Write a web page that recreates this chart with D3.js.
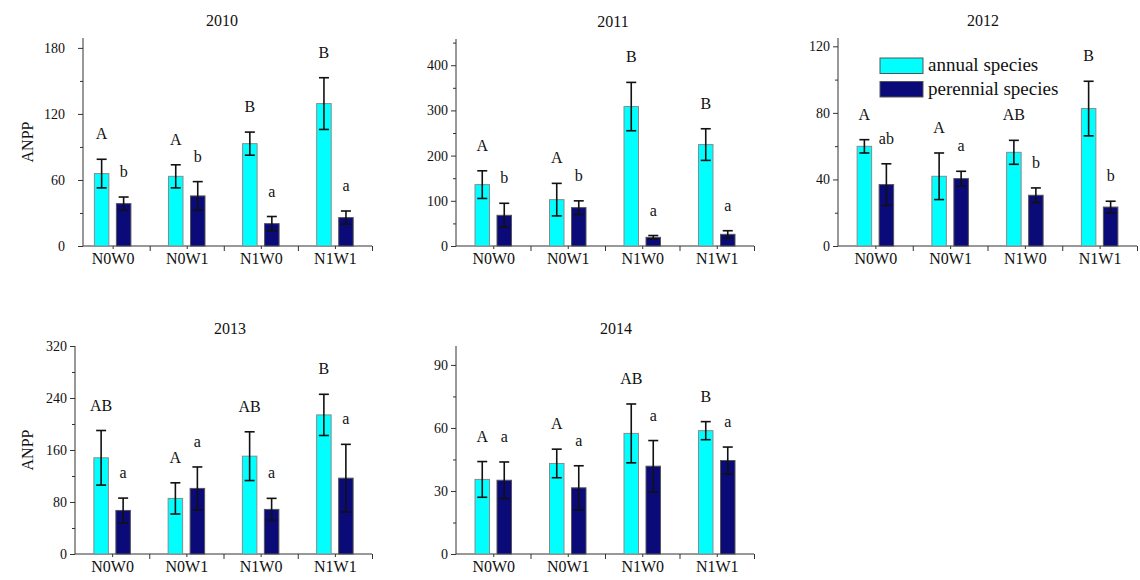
<!DOCTYPE html>
<html>
<head>
<meta charset="utf-8">
<script src="https://cdn.jsdelivr.net/npm/d3@7"></script>
<style>
  body { margin: 0; background: #fff; }
  text { font-family: "Liberation Serif", "Times New Roman", serif; fill: #111; }
  .axis path, .axis line { stroke: #333; }
</style>
</head>
<body>
<script>
// data
var categories = ["N0W0", "N0W1", "N1W0", "N1W1"];
var years = ["2010", "2011", "2012", "2013", "2014"];

var annualMeans = [
  [65.8, 63.3, 93, 129.4],
  [135.8, 102.6, 308.5, 224.4],
  [59.9, 41.9, 56.3, 82.6],
  [148, 85.5, 150.5, 214],
  [35.5, 43.1, 57.4, 58.7]
];
var annualErrors = [
  [13, 10.5, 10.5, 23.5],
  [30.6, 36, 53.5, 35],
  [4, 14, 7.2, 16.4],
  [42, 24, 37.5, 31.7],
  [8.5, 6.8, 14, 4.3]
];
var perennialMeans = [
  [38.5, 45.5, 20.3, 25.8],
  [67.9, 84.9, 19.2, 25.8],
  [36.9, 40.5, 30.5, 23.4],
  [67, 100.9, 68.6, 116.7],
  [35.1, 31.5, 41.8, 44.5]
];
var perennialErrors = [
  [6, 13, 6.5, 6],
  [26.6, 15, 4, 8],
  [12.5, 4.4, 4.4, 3.5],
  [19, 33, 17, 52],
  [8.7, 10.5, 12.2, 6.4]
];
var annualLetters = [
  ["A", "A", "B", "B"],
  ["A", "A", "B", "B"],
  ["A", "A", "AB", "B"],
  ["AB", "A", "AB", "B"],
  ["A", "A", "AB", "B"]
];
var perennialLetters = [
  ["b", "b", "a", "a"],
  ["b", "b", "a", "a"],
  ["ab", "a", "b", "b"],
  ["a", "a", "a", "a"],
  ["a", "a", "a", "a"]
];
var yMax = [189, 458, 125, 320, 99];
var yStep = [60, 100, 40, 80, 30];
var seriesNames = ["annual species", "perennial species"];
var colors = ["#00ffff", "#0a0a78"];

// panel placement
var panels = [
  {left: 83,  right: 372,  top: 38,  bottom: 246, x0: 0.6, titleX: 222, pad: 13, ylabel: true},
  {left: 456, right: 754,  top: 39,  bottom: 246, x0: 0.5, titleX: 613, pad: 3,  ylabel: false},
  {left: 838, right: 1137, top: 38,  bottom: 246, x0: 0.5, titleX: 983, pad: 3,  ylabel: false},
  {left: 75,  right: 372,  top: 346, bottom: 554, x0: 0.5, titleX: 230, pad: 3,  ylabel: true},
  {left: 456, right: 754,  top: 346, bottom: 554, x0: 0.5, titleX: 616, pad: 3,  ylabel: false}
];

var barW = 14.5, shift = 11;

var svg = d3.select("body").append("svg")
    .attr("width", 1140)
    .attr("height", 580);

svg.append("rect").attr("width", 1140).attr("height", 580).attr("fill", "#fff");

panels.forEach(function(p, i) {
    var g = svg.append("g");

    var x = d3.scaleLinear().domain([p.x0, 4.5]).range([p.left, p.right]);
    var y = d3.scaleLinear().domain([0, yMax[i]]).range([p.bottom, p.top]);

    var major = d3.range(0, yMax[i] + 0.01, yStep[i]);
    var minor = d3.range(yStep[i] / 2, yMax[i], yStep[i]);

    // minor y ticks
    g.append("g")
        .attr("class", "axis")
        .attr("transform", "translate(" + p.left + ",0)")
        .call(d3.axisLeft(y).tickValues(minor).tickSize(3).tickFormat(""))
        .select(".domain").remove();

    // y axis
    g.append("g")
        .attr("class", "axis")
        .attr("transform", "translate(" + p.left + ",0)")
        .call(d3.axisLeft(y).tickValues(major).tickSize(5).tickSizeOuter(0).tickPadding(p.pad))
        .call(function(a) {
            a.select(".domain").attr("d", "M0," + p.bottom + "V" + p.top);
            a.selectAll("text").style("font-size", "14px").style("font-family", "Liberation Serif");
        });

    // x axis: boundary ticks
    g.append("g")
        .attr("class", "axis")
        .attr("transform", "translate(0," + p.bottom + ")")
        .call(d3.axisBottom(x).tickValues([1.5, 2.5, 3.5, 4.5]).tickSize(5).tickSizeOuter(0).tickFormat(""))
        .select(".domain").attr("d", "M" + p.left + ",0H" + p.right);

    // x axis: category labels
    g.append("g")
        .attr("class", "axis")
        .attr("transform", "translate(0," + p.bottom + ")")
        .call(d3.axisBottom(x).tickValues([1, 2, 3, 4]).tickSize(3).tickPadding(4)
            .tickFormat(function(d) { return categories[d - 1]; }))
        .call(function(a) {
            a.select(".domain").remove();
            a.selectAll("text").style("font-size", "16px").style("font-family", "Liberation Serif");
        });

    var series = [
        {means: annualMeans[i], errs: annualErrors[i], letters: annualLetters[i], dx: -shift, color: colors[0], stroke: "#8a8a8a"},
        {means: perennialMeans[i], errs: perennialErrors[i], letters: perennialLetters[i], dx: shift, color: colors[1], stroke: "#555"}
    ];

    series.forEach(function(s) {
        var rows = s.means.map(function(m, j) {
            return {k: j + 1, m: m, e: s.errs[j], l: s.letters[j]};
        });

        g.selectAll(null)
            .data(rows)
            .enter()
            .append("rect")
            .attr("x", function(d) { return x(d.k) + s.dx - barW / 2; })
            .attr("y", function(d) { return y(d.m); })
            .attr("width", barW)
            .attr("height", function(d) { return y(0) - y(d.m); })
            .attr("fill", s.color)
            .attr("stroke", s.stroke)
            .attr("stroke-width", 1);

        // error bars
        var eb = g.selectAll(null)
            .data(rows)
            .enter()
            .append("g")
            .attr("stroke", "#111")
            .attr("stroke-width", 1.6);
        eb.append("line")
            .attr("x1", function(d) { return x(d.k) + s.dx; })
            .attr("x2", function(d) { return x(d.k) + s.dx; })
            .attr("y1", function(d) { return y(d.m - d.e); })
            .attr("y2", function(d) { return y(d.m + d.e); });
        eb.append("line")
            .attr("x1", function(d) { return x(d.k) + s.dx - 5; })
            .attr("x2", function(d) { return x(d.k) + s.dx + 5; })
            .attr("y1", function(d) { return y(d.m + d.e); })
            .attr("y2", function(d) { return y(d.m + d.e); });
        eb.append("line")
            .attr("x1", function(d) { return x(d.k) + s.dx - 5; })
            .attr("x2", function(d) { return x(d.k) + s.dx + 5; })
            .attr("y1", function(d) { return y(d.m - d.e); })
            .attr("y2", function(d) { return y(d.m - d.e); });

        // significance letters
        g.selectAll(null)
            .data(rows)
            .enter()
            .append("text")
            .attr("x", function(d) { return x(d.k) + s.dx; })
            .attr("y", function(d) { return y(d.m + d.e) - 20; })
            .attr("text-anchor", "middle")
            .style("font-size", "16px")
            .text(function(d) { return d.l; });
    });

    // title
    g.append("text")
        .attr("x", p.titleX)
        .attr("y", p.top - 12)
        .attr("text-anchor", "middle")
        .style("font-size", "16px")
        .text(years[i]);

    if (p.ylabel) {
        g.append("text")
            .attr("transform", "translate(33," + ((p.top + p.bottom) / 2) + ") rotate(-90)")
            .attr("text-anchor", "middle")
            .style("font-size", "16px")
            .text("ANPP");
    }

    // legend sits in the 2012 panel
    if (i === 2) {
        var lg = g.append("g").attr("transform", "translate(880,58)");
        seriesNames.forEach(function(name, k) {
            lg.append("rect")
                .attr("x", 0)
                .attr("y", k * 23.5)
                .attr("width", 43)
                .attr("height", 15.5)
                .attr("fill", colors[k])
                .attr("stroke", "#555");
            lg.append("text")
                .attr("x", 48)
                .attr("y", k * 23.5 + 13)
                .style("font-size", "19px")
                .text(name);
        });
    }
});
</script>
</body>
</html>
